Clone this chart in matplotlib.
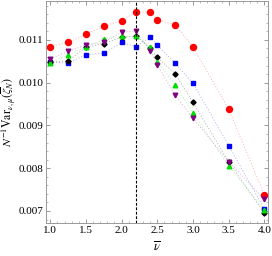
import matplotlib
matplotlib.use('Agg')
import matplotlib.pyplot as plt

plt.rcParams['font.family'] = ['Liberation Serif', 'DejaVu Serif']
plt.rcParams['mathtext.fontset'] = 'stix'

nu = [1.0, 1.25, 1.5, 1.75, 2.0, 2.2, 2.4, 2.5, 2.75, 3.0, 3.5, 4.0]

red = [0.01084, 0.01094, 0.01113, 0.01132, 0.01145, 0.01164, 0.01166, 0.01147, 0.01135, 0.01084, 0.00938, 0.00738]
blue = [0.01048, 0.01046, 0.01065, 0.01069, 0.01094, 0.01084, 0.01106, 0.01088, 0.01045, 0.00999, 0.00853, 0.00705]
black = [0.01048, 0.01051, 0.01083, 0.01091, 0.01106, 0.01108, 0.01081, 0.01059, 0.01021, 0.00954, 0.00815, 0.00695]
green = [0.01047, 0.01065, 0.01083, 0.01102, 0.01108, 0.01109, 0.01083, 0.01049, 0.00995, 0.00929, 0.00805, 0.00702]
purple = [0.01056, 0.01073, 0.01088, 0.01094, 0.01118, 0.01121, 0.01075, 0.01042, 0.00971, 0.00917, 0.00815, 0.00727]

NU_CRIT = 2.2

series = [
    (red, 'red', 'o', 4.3),
    (blue, 'blue', 's', 3.0),
    (black, 'black', 'D', 2.6),
    (green, '#00dd00', '^', 3.3),
    (purple, 'purple', 'v', 3.3),
]

fig = plt.figure(figsize=(2.72, 2.56), dpi=100)
ax = fig.add_axes([0.169, 0.129, 0.816, 0.869])

for vals, col, mk, ms in series:
    ax.plot(nu, vals, linestyle=(0, (1.5, 2)), linewidth=0.6, color=col, alpha=0.3)
    ax.plot(nu, vals, linestyle='none', marker=mk, markersize=ms, color=col)

ax.axvline(NU_CRIT, color='black', linestyle=(0, (2.5, 1.5)), linewidth=0.8)

ax.set_xlim(0.94, 4.05)
ax.set_ylim(0.00672, 0.01192)
ax.set_xticks([1.0, 1.5, 2.0, 2.5, 3.0, 3.5, 4.0])
ax.set_yticks([0.007, 0.008, 0.009, 0.010, 0.011])
ax.set_xticklabels(['1.0', '1.5', '2.0', '2.5', '3.0', '3.5', '4.0'])
ax.set_yticklabels(['0.007', '0.008', '0.009', '0.010', '0.011'])
ax.minorticks_on()
ax.tick_params(which='both', direction='in', top=True, right=True, colors='#888888',
               labelcolor='black', labelsize=8, pad=2)
ax.tick_params(which='major', length=3, width=0.6)
ax.tick_params(which='minor', length=1.5, width=0.4)
for sp in ax.spines.values():
    sp.set_color('#999999')
    sp.set_linewidth(0.7)

ax.set_xlabel(r'$\overline{\nu}$', fontsize=9)
ax.xaxis.set_label_coords(0.5, -0.08)
ax.set_ylabel(r'$N^{-1}\mathrm{Var}_{\nu,\mu}(\overline{\zeta}_N)$', fontsize=8.5)
ax.yaxis.set_label_coords(-0.125, 0.5)

fig.savefig('out.png', dpi=100)
